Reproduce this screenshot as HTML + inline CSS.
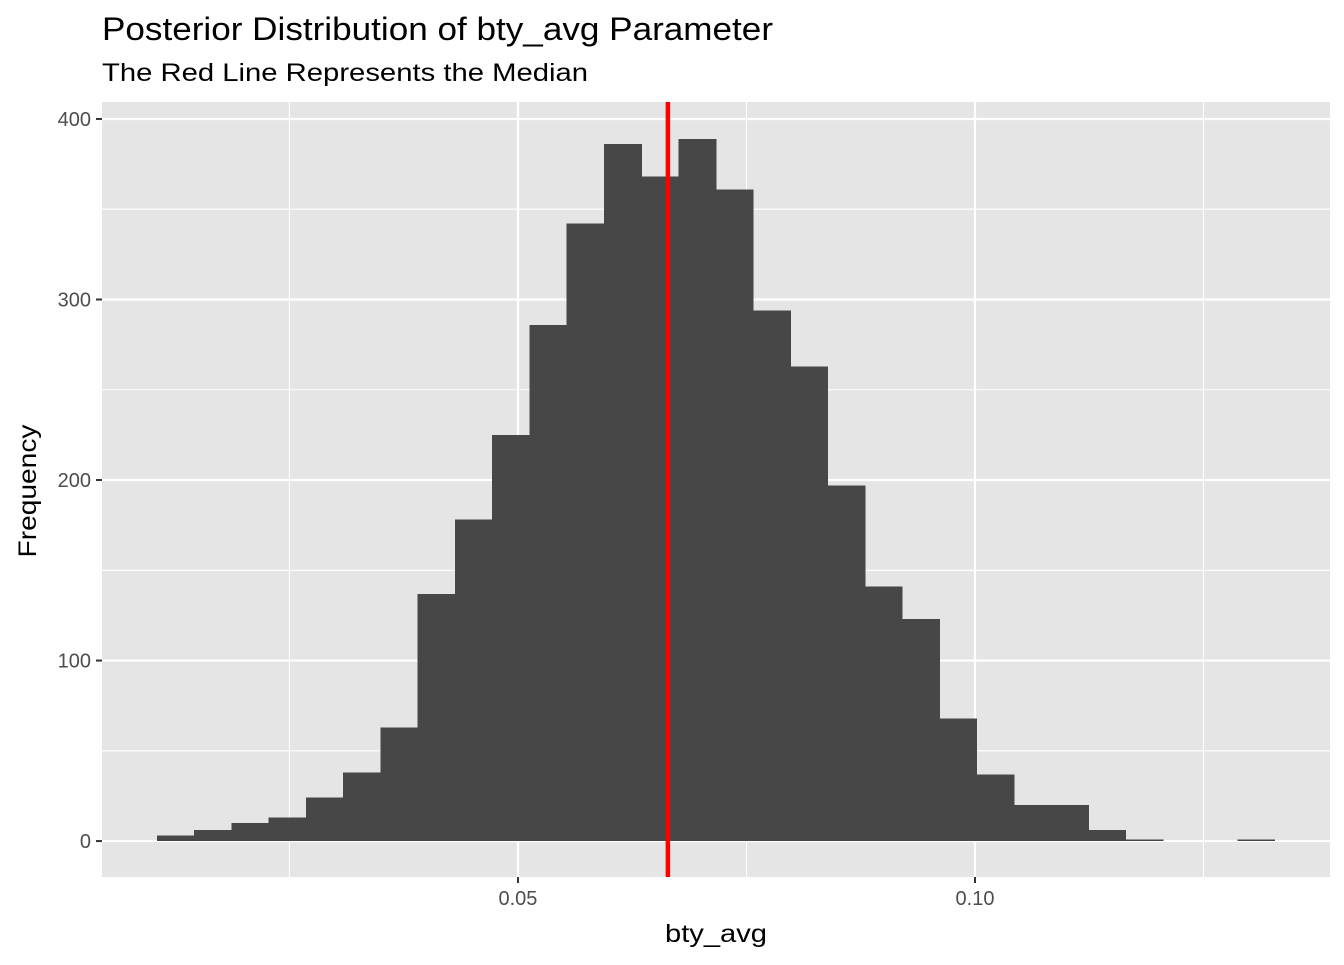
<!DOCTYPE html>
<html><head><meta charset="utf-8"><style>
body{margin:0;background:#fff;}
svg text{font-family:"Liberation Sans",Arial,sans-serif;}
</style></head><body>
<svg id="chart" width="1344" height="960">
<text x="102" y="40" font-size="32" textLength="671" lengthAdjust="spacingAndGlyphs" fill="#000">Posterior Distribution of bty_avg Parameter</text>
<text x="102" y="81" font-size="25" textLength="486" lengthAdjust="spacingAndGlyphs" fill="#000">The Red Line Represents the Median</text>
<rect x="102" y="102" width="1228" height="775" fill="#e5e5e5"/>
<g id="grid"></g><g id="bars" shape-rendering="crispEdges"></g><g id="axes"></g>
<text x="716" y="942" font-size="25" textLength="102" lengthAdjust="spacingAndGlyphs" text-anchor="middle">bty_avg</text>
<text transform="translate(36,491) rotate(-90)" font-size="25" textLength="133" lengthAdjust="spacingAndGlyphs" text-anchor="middle">Frequency</text>
</svg>
<script>
const binStart = 0.0105;
const binWidth = 0.004076;
const counts = [3,6,10,13,24,38,63,137,178,225,286,342,386,368,389,361,294,263,197,141,123,68,37,20,20,6,1,0,0,1];
const median = 0.0664;
const xMajor = [0.05,0.10];
const xMajorLabels = ["0.05","0.10"];
const xMinor = [0.025,0.075,0.125];
const yMajor = [0,100,200,300,400];
const yMinor = [50,150,250,350];
const NS="http://www.w3.org/2000/svg";
const L=102,R=1330,T=102,B=877;
const xMin=0.00449,xMax=0.13884,yMin=-19.9,yMax=409.4;
const sx=v=>L+(v-xMin)/(xMax-xMin)*(R-L);
const sy=v=>B-(v-yMin)/(yMax-yMin)*(B-T);
function mk(tag,attrs,parent){const e=document.createElementNS(NS,tag);for(const k in attrs)e.setAttribute(k,attrs[k]);document.getElementById(parent).appendChild(e);return e;}
xMinor.forEach(v=>{const e=mk('line',{x1:sx(v),x2:sx(v),y1:T,y2:B,stroke:'#fff','stroke-width':1.1},'grid');

});
yMinor.forEach(v=>{const e=mk('line',{x1:L,x2:R,y1:sy(v),y2:sy(v),stroke:'#fff','stroke-width':1.1},'grid');

});
xMajor.forEach((v,i)=>{const e=mk('line',{x1:sx(v),x2:sx(v),y1:T,y2:B,stroke:'#fff','stroke-width':2.2},'grid');


const t=mk('line',{x1:sx(v),x2:sx(v),y1:B,y2:B+6,stroke:'#333','stroke-width':2},'axes');


const l=mk('text',{x:sx(v),y:B+28,'font-size':20,fill:'#4d4d4d','text-anchor':'middle'},'axes');l.textContent=xMajorLabels[i];

});
yMajor.forEach(v=>{const e=mk('line',{x1:L,x2:R,y1:sy(v),y2:sy(v),stroke:'#fff','stroke-width':2.2},'grid');


const t=mk('line',{x1:L-6,x2:L,y1:sy(v),y2:sy(v),stroke:'#333','stroke-width':2},'axes');


const l=mk('text',{x:L-11,y:sy(v)+7,'font-size':20,fill:'#4d4d4d','text-anchor':'end'},'axes');l.textContent=v;

});
counts.forEach((c,i)=>{const x0=sx(binStart+i*binWidth),x1=sx(binStart+(i+1)*binWidth);
const r=mk('rect',{x:x0,y:sy(c),width:x1-x0+0.6,height:sy(0)-sy(c),fill:'#474747'},'bars');

});
const m=mk('line',{x1:sx(median),x2:sx(median),y1:T,y2:B,stroke:'#ff0000','stroke-width':4.5},'axes');


</script>
</body></html>
